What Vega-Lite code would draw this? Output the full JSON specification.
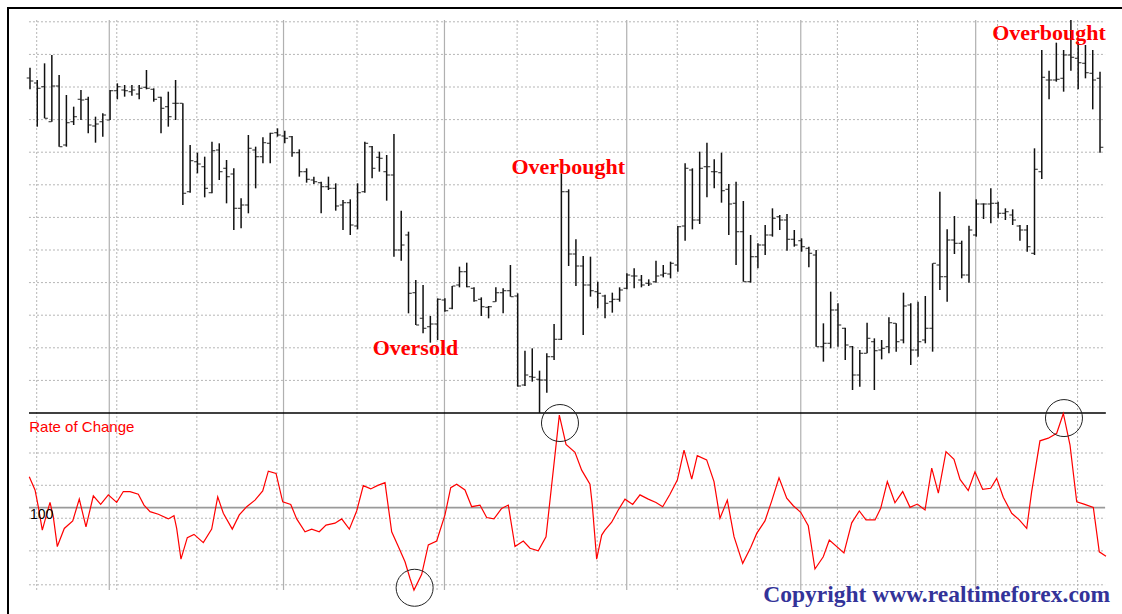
{
"$schema": "https://vega.github.io/schema/vega-lite/v6.json",
"width": 1120,
"height": 612,
"autosize": {"type": "none"},
"padding": {"left": 8, "top": 8, "right": 0, "bottom": 0},
"background": "white",
"config": {"view": {"stroke": "#000000", "strokeWidth": 2}},
"datasets": {
"bars": [
{"day":0,"o":1.4005,"h":1.4036,"l":1.3971,"c":1.3996},
{"day":1,"o":1.3990,"h":1.3999,"l":1.3859,"c":1.3974},
{"day":2,"o":1.3979,"h":1.4049,"l":1.3884,"c":1.3884},
{"day":3,"o":1.3874,"h":1.4074,"l":1.3874,"c":1.3981},
{"day":4,"o":1.3981,"h":1.4014,"l":1.3799,"c":1.3799},
{"day":5,"o":1.3804,"h":1.3954,"l":1.3799,"c":1.3871},
{"day":6,"o":1.3874,"h":1.3919,"l":1.3864,"c":1.3889},
{"day":7,"o":1.3941,"h":1.3969,"l":1.3879,"c":1.3939},
{"day":8,"o":1.3941,"h":1.3949,"l":1.3839,"c":1.3864},
{"day":9,"o":1.3861,"h":1.3889,"l":1.3811,"c":1.3867},
{"day":10,"o":1.3874,"h":1.3899,"l":1.3829,"c":1.3894},
{"day":11,"o":1.3879,"h":1.3969,"l":1.3879,"c":1.3967},
{"day":12,"o":1.3967,"h":1.3989,"l":1.3941,"c":1.3979},
{"day":13,"o":1.3969,"h":1.3984,"l":1.3949,"c":1.3967},
{"day":14,"o":1.3964,"h":1.3984,"l":1.3952,"c":1.3969},
{"day":15,"o":1.3957,"h":1.3984,"l":1.3941,"c":1.3974},
{"day":16,"o":1.3977,"h":1.4029,"l":1.3971,"c":1.3974},
{"day":17,"o":1.3971,"h":1.3974,"l":1.3934,"c":1.3941},
{"day":18,"o":1.3947,"h":1.3949,"l":1.3839,"c":1.3914},
{"day":19,"o":1.3919,"h":1.3964,"l":1.3859,"c":1.3889},
{"day":20,"o":1.3929,"h":1.3999,"l":1.3879,"c":1.3929},
{"day":21,"o":1.3929,"h":1.3929,"l":1.3624,"c":1.3659},
{"day":22,"o":1.3664,"h":1.3804,"l":1.3661,"c":1.3757},
{"day":23,"o":1.3754,"h":1.3781,"l":1.3719,"c":1.3747},
{"day":24,"o":1.3739,"h":1.3769,"l":1.3647,"c":1.3674},
{"day":25,"o":1.3661,"h":1.3814,"l":1.3659,"c":1.3787},
{"day":26,"o":1.3789,"h":1.3809,"l":1.3699,"c":1.3724},
{"day":27,"o":1.3734,"h":1.3759,"l":1.3629,"c":1.3709},
{"day":28,"o":1.3717,"h":1.3734,"l":1.3549,"c":1.3614},
{"day":29,"o":1.3614,"h":1.3644,"l":1.3554,"c":1.3624},
{"day":30,"o":1.3624,"h":1.3834,"l":1.3599,"c":1.3794},
{"day":31,"o":1.3789,"h":1.3799,"l":1.3674,"c":1.3769},
{"day":32,"o":1.3769,"h":1.3827,"l":1.3749,"c":1.3811},
{"day":33,"o":1.3809,"h":1.3841,"l":1.3749,"c":1.3839},
{"day":34,"o":1.3841,"h":1.3854,"l":1.3829,"c":1.3834},
{"day":35,"o":1.3831,"h":1.3847,"l":1.3809,"c":1.3824},
{"day":36,"o":1.3829,"h":1.3831,"l":1.3769,"c":1.3781},
{"day":37,"o":1.3781,"h":1.3791,"l":1.3709,"c":1.3724},
{"day":38,"o":1.3724,"h":1.3734,"l":1.3691,"c":1.3701},
{"day":39,"o":1.3699,"h":1.3709,"l":1.3687,"c":1.3694},
{"day":40,"o":1.3691,"h":1.3694,"l":1.3599,"c":1.3679},
{"day":41,"o":1.3679,"h":1.3709,"l":1.3669,"c":1.3674},
{"day":42,"o":1.3674,"h":1.3689,"l":1.3607,"c":1.3621},
{"day":43,"o":1.3624,"h":1.3639,"l":1.3549,"c":1.3631},
{"day":44,"o":1.3631,"h":1.3641,"l":1.3534,"c":1.3564},
{"day":45,"o":1.3561,"h":1.3689,"l":1.3551,"c":1.3661},
{"day":46,"o":1.3664,"h":1.3814,"l":1.3661,"c":1.3809},
{"day":47,"o":1.3799,"h":1.3801,"l":1.3704,"c":1.3734},
{"day":48,"o":1.3767,"h":1.3784,"l":1.3724,"c":1.3764},
{"day":49,"o":1.3724,"h":1.3774,"l":1.3637,"c":1.3714},
{"day":50,"o":1.3714,"h":1.3837,"l":1.3469,"c":1.3489},
{"day":51,"o":1.3489,"h":1.3607,"l":1.3457,"c":1.3504},
{"day":52,"o":1.3534,"h":1.3544,"l":1.3299,"c":1.3359},
{"day":53,"o":1.3361,"h":1.3399,"l":1.3264,"c":1.3264},
{"day":54,"o":1.3284,"h":1.3384,"l":1.3239,"c":1.3254},
{"day":55,"o":1.3259,"h":1.3291,"l":1.3211,"c":1.3267},
{"day":56,"o":1.3267,"h":1.3344,"l":1.3219,"c":1.3341},
{"day":57,"o":1.3339,"h":1.3344,"l":1.3304,"c":1.3307},
{"day":58,"o":1.3314,"h":1.3381,"l":1.3311,"c":1.3381},
{"day":59,"o":1.3384,"h":1.3439,"l":1.3377,"c":1.3424},
{"day":60,"o":1.3424,"h":1.3451,"l":1.3377,"c":1.3379},
{"day":61,"o":1.3374,"h":1.3377,"l":1.3334,"c":1.3337},
{"day":62,"o":1.3341,"h":1.3347,"l":1.3291,"c":1.3319},
{"day":63,"o":1.3317,"h":1.3321,"l":1.3284,"c":1.3319},
{"day":64,"o":1.3334,"h":1.3377,"l":1.3334,"c":1.3361},
{"day":65,"o":1.3361,"h":1.3374,"l":1.3299,"c":1.3367},
{"day":66,"o":1.3367,"h":1.3444,"l":1.3349,"c":1.3349},
{"day":67,"o":1.3351,"h":1.3359,"l":1.3079,"c":1.3081},
{"day":68,"o":1.3084,"h":1.3187,"l":1.3081,"c":1.3114},
{"day":69,"o":1.3109,"h":1.3194,"l":1.3094,"c":1.3107},
{"day":70,"o":1.3101,"h":1.3127,"l":1.3000,"c":1.3099},
{"day":71,"o":1.3099,"h":1.3179,"l":1.3061,"c":1.3169},
{"day":72,"o":1.3169,"h":1.3267,"l":1.3159,"c":1.3221},
{"day":73,"o":1.3221,"h":1.3719,"l":1.3219,"c":1.3664},
{"day":74,"o":1.3664,"h":1.3671,"l":1.3441,"c":1.3477},
{"day":75,"o":1.3477,"h":1.3521,"l":1.3381,"c":1.3441},
{"day":76,"o":1.3441,"h":1.3471,"l":1.3234,"c":1.3384},
{"day":77,"o":1.3384,"h":1.3469,"l":1.3349,"c":1.3367},
{"day":78,"o":1.3364,"h":1.3394,"l":1.3314,"c":1.3359},
{"day":79,"o":1.3351,"h":1.3355,"l":1.3284,"c":1.3329},
{"day":80,"o":1.3334,"h":1.3361,"l":1.3301,"c":1.3341},
{"day":81,"o":1.3341,"h":1.3377,"l":1.3334,"c":1.3369},
{"day":82,"o":1.3374,"h":1.3419,"l":1.3371,"c":1.3414},
{"day":83,"o":1.3411,"h":1.3434,"l":1.3374,"c":1.3411},
{"day":84,"o":1.3399,"h":1.3414,"l":1.3377,"c":1.3384},
{"day":85,"o":1.3389,"h":1.3401,"l":1.3381,"c":1.3387},
{"day":86,"o":1.3394,"h":1.3457,"l":1.3391,"c":1.3411},
{"day":87,"o":1.3414,"h":1.3444,"l":1.3407,"c":1.3419},
{"day":88,"o":1.3417,"h":1.3454,"l":1.3404,"c":1.3449},
{"day":89,"o":1.3444,"h":1.3561,"l":1.3424,"c":1.3559},
{"day":90,"o":1.3561,"h":1.3749,"l":1.3517,"c":1.3734},
{"day":91,"o":1.3729,"h":1.3734,"l":1.3551,"c":1.3579},
{"day":92,"o":1.3579,"h":1.3784,"l":1.3567,"c":1.3734},
{"day":93,"o":1.3739,"h":1.3811,"l":1.3647,"c":1.3739},
{"day":94,"o":1.3724,"h":1.3761,"l":1.3674,"c":1.3724},
{"day":95,"o":1.3721,"h":1.3781,"l":1.3631,"c":1.3667},
{"day":96,"o":1.3671,"h":1.3687,"l":1.3534,"c":1.3627},
{"day":97,"o":1.3629,"h":1.3694,"l":1.3444,"c":1.3544},
{"day":98,"o":1.3544,"h":1.3636,"l":1.3394,"c":1.3394},
{"day":99,"o":1.3394,"h":1.3534,"l":1.3391,"c":1.3469},
{"day":100,"o":1.3469,"h":1.3509,"l":1.3434,"c":1.3504},
{"day":101,"o":1.3504,"h":1.3564,"l":1.3474,"c":1.3534},
{"day":102,"o":1.3534,"h":1.3614,"l":1.3529,"c":1.3584},
{"day":103,"o":1.3589,"h":1.3594,"l":1.3549,"c":1.3579},
{"day":104,"o":1.3579,"h":1.3597,"l":1.3487,"c":1.3521},
{"day":105,"o":1.3521,"h":1.3549,"l":1.3499,"c":1.3504},
{"day":106,"o":1.3517,"h":1.3524,"l":1.3484,"c":1.3499},
{"day":107,"o":1.3494,"h":1.3499,"l":1.3437,"c":1.3479},
{"day":108,"o":1.3474,"h":1.3489,"l":1.3199,"c":1.3199},
{"day":109,"o":1.3199,"h":1.3269,"l":1.3154,"c":1.3209},
{"day":110,"o":1.3209,"h":1.3364,"l":1.3194,"c":1.3309},
{"day":111,"o":1.3309,"h":1.3329,"l":1.3199,"c":1.3264},
{"day":112,"o":1.3254,"h":1.3256,"l":1.3159,"c":1.3204},
{"day":113,"o":1.3199,"h":1.3201,"l":1.3069,"c":1.3114},
{"day":114,"o":1.3114,"h":1.3189,"l":1.3079,"c":1.3179},
{"day":115,"o":1.3179,"h":1.3271,"l":1.3179,"c":1.3224},
{"day":116,"o":1.3214,"h":1.3224,"l":1.3069,"c":1.3187},
{"day":117,"o":1.3189,"h":1.3219,"l":1.3161,"c":1.3194},
{"day":118,"o":1.3199,"h":1.3287,"l":1.3179,"c":1.3271},
{"day":119,"o":1.3269,"h":1.3269,"l":1.3184,"c":1.3214},
{"day":120,"o":1.3219,"h":1.3361,"l":1.3209,"c":1.3321},
{"day":121,"o":1.3324,"h":1.3329,"l":1.3144,"c":1.3189},
{"day":122,"o":1.3189,"h":1.3334,"l":1.3169,"c":1.3214},
{"day":123,"o":1.3219,"h":1.3351,"l":1.3209,"c":1.3254},
{"day":124,"o":1.3254,"h":1.3449,"l":1.3184,"c":1.3449},
{"day":125,"o":1.3444,"h":1.3664,"l":1.3369,"c":1.3409},
{"day":126,"o":1.3409,"h":1.3551,"l":1.3334,"c":1.3519},
{"day":127,"o":1.3519,"h":1.3591,"l":1.3477,"c":1.3509},
{"day":128,"o":1.3509,"h":1.3517,"l":1.3404,"c":1.3414},
{"day":129,"o":1.3414,"h":1.3562,"l":1.3391,"c":1.3549},
{"day":130,"o":1.3534,"h":1.3641,"l":1.3529,"c":1.3627},
{"day":131,"o":1.3627,"h":1.3629,"l":1.3582,"c":1.3627},
{"day":132,"o":1.3627,"h":1.3674,"l":1.3569,"c":1.3629},
{"day":133,"o":1.3629,"h":1.3634,"l":1.3584,"c":1.3599},
{"day":134,"o":1.3599,"h":1.3614,"l":1.3579,"c":1.3604},
{"day":135,"o":1.3594,"h":1.3611,"l":1.3564,"c":1.3579},
{"day":136,"o":1.3561,"h":1.3564,"l":1.3517,"c":1.3549},
{"day":137,"o":1.3549,"h":1.3564,"l":1.3484,"c":1.3499},
{"day":138,"o":1.3479,"h":1.3794,"l":1.3474,"c":1.3731},
{"day":139,"o":1.3724,"h":1.4089,"l":1.3702,"c":1.4007},
{"day":140,"o":1.3999,"h":1.4027,"l":1.3941,"c":1.3999},
{"day":141,"o":1.3999,"h":1.4111,"l":1.3994,"c":1.4001},
{"day":142,"o":1.4004,"h":1.4089,"l":1.3964,"c":1.4074},
{"day":143,"o":1.4074,"h":1.4179,"l":1.4027,"c":1.4067},
{"day":144,"o":1.4064,"h":1.4114,"l":1.3971,"c":1.4051},
{"day":145,"o":1.4049,"h":1.4104,"l":1.4004,"c":1.4021},
{"day":146,"o":1.4019,"h":1.4089,"l":1.3911,"c":1.3999},
{"day":147,"o":1.4004,"h":1.4024,"l":1.3781,"c":1.3797}
],
"roc": [
{"day":-0.10,"roc":100.94},{"day":0.69,"roc":100.54},{"day":1.14,"roc":100.03},{"day":1.69,"roc":99.32},
{"day":2.20,"roc":99.73},{"day":2.75,"roc":100.16},{"day":3.20,"roc":99.73},{"day":3.75,"roc":98.82},
{"day":4.71,"roc":99.37},{"day":5.87,"roc":99.60},{"day":6.77,"roc":100.26},{"day":7.69,"roc":99.42},
{"day":8.70,"roc":100.36},{"day":9.71,"roc":100.10},{"day":10.76,"roc":100.39},{"day":11.91,"roc":100.16},
{"day":12.82,"roc":100.49},{"day":13.74,"roc":100.49},{"day":14.88,"roc":100.41},{"day":15.66,"roc":100.08},
{"day":16.49,"roc":99.88},{"day":17.63,"roc":99.80},{"day":19.00,"roc":99.66},{"day":19.78,"roc":99.76},
{"day":20.15,"roc":99.37},{"day":20.74,"roc":98.44},{"day":21.61,"roc":99.09},{"day":22.53,"roc":99.19},
{"day":23.81,"roc":98.94},{"day":24.96,"roc":99.35},{"day":25.79,"roc":100.33},{"day":26.56,"roc":99.83},
{"day":27.79,"roc":99.35},{"day":28.75,"roc":99.78},{"day":29.77,"roc":100.03},{"day":30.91,"roc":100.23},
{"day":31.97,"roc":100.51},{"day":32.74,"roc":101.11},{"day":33.80,"roc":101.04},{"day":34.72,"roc":100.18},
{"day":35.82,"roc":100.10},{"day":36.64,"roc":99.66},{"day":37.78,"roc":99.27},{"day":38.70,"roc":99.35},
{"day":39.74,"roc":99.27},{"day":40.67,"roc":99.47},{"day":41.90,"roc":99.53},{"day":42.82,"roc":99.66},
{"day":43.87,"roc":99.35},{"day":44.88,"roc":99.90},{"day":45.79,"roc":100.67},{"day":46.81,"roc":100.57},
{"day":47.71,"roc":100.67},{"day":48.77,"roc":100.76},{"day":49.69,"roc":99.27},{"day":50.60,"roc":98.82},
{"day":51.52,"roc":98.36},{"day":52.20,"roc":97.86},{"day":52.75,"roc":97.50},{"day":53.81,"roc":97.98},
{"day":54.72,"roc":98.87},{"day":55.87,"roc":98.99},{"day":57.01,"roc":99.78},{"day":57.80,"roc":100.61},
{"day":58.62,"roc":100.71},{"day":59.76,"roc":100.54},{"day":60.68,"roc":100.03},{"day":61.82,"roc":100.08},
{"day":62.74,"roc":99.70},{"day":63.74,"roc":99.66},{"day":64.80,"roc":99.98},{"day":65.71,"roc":100.08},
{"day":66.63,"roc":98.82},{"day":67.77,"roc":98.99},{"day":68.69,"roc":98.77},{"day":69.83,"roc":98.69},
{"day":70.89,"roc":99.12},{"day":72.72,"roc":102.81},{"day":73.64,"roc":101.92},{"day":74.87,"roc":101.68},
{"day":75.79,"roc":101.14},{"day":76.93,"roc":100.71},{"day":77.25,"roc":100.08},{"day":77.85,"roc":98.44},
{"day":78.54,"roc":99.17},{"day":78.99,"roc":99.32},{"day":79.91,"roc":99.56},{"day":80.82,"roc":99.93},
{"day":81.74,"roc":100.26},{"day":82.80,"roc":100.10},{"day":83.80,"roc":100.39},{"day":84.94,"roc":100.26},
{"day":86.00,"roc":100.16},{"day":86.92,"roc":100.03},{"day":87.92,"roc":100.41},{"day":88.93,"roc":100.84},
{"day":89.85,"roc":101.75},{"day":90.91,"roc":100.87},{"day":91.67,"roc":101.58},{"day":92.96,"roc":101.45},
{"day":93.97,"roc":100.79},{"day":94.79,"roc":99.68},{"day":95.80,"roc":100.23},{"day":96.72,"roc":99.12},
{"day":97.91,"roc":98.31},{"day":99.01,"roc":98.79},{"day":99.84,"roc":99.22},{"day":100.97,"roc":99.60},
{"day":101.89,"roc":100.20},{"day":102.90,"roc":100.91},{"day":103.96,"roc":100.29},{"day":104.86,"roc":100.06},
{"day":105.88,"roc":99.86},{"day":106.92,"roc":99.45},{"day":107.84,"roc":98.14},{"day":108.98,"roc":98.51},
{"day":109.81,"roc":99.02},{"day":111.82,"roc":98.63},{"day":112.89,"roc":99.54},{"day":113.93,"roc":99.90},
{"day":114.85,"roc":99.63},{"day":116.09,"roc":99.63},{"day":116.87,"roc":99.98},{"day":117.78,"roc":100.79},
{"day":118.83,"roc":100.15},{"day":119.89,"roc":100.49},{"day":120.90,"roc":100.01},{"day":121.90,"roc":100.11},
{"day":122.96,"roc":99.93},{"day":123.88,"roc":101.20},{"day":124.79,"roc":100.44},{"day":125.84,"roc":101.70},
{"day":126.94,"roc":101.47},{"day":127.77,"roc":100.86},{"day":128.90,"roc":100.52},{"day":129.82,"roc":101.09},
{"day":130.88,"roc":100.56},{"day":131.98,"roc":100.59},{"day":132.80,"roc":100.89},{"day":133.71,"roc":100.32},
{"day":134.87,"roc":99.83},{"day":135.91,"roc":99.63},{"day":136.93,"roc":99.37},{"day":137.61,"roc":100.49},
{"day":138.75,"roc":102.03},{"day":139.90,"roc":102.11},{"day":141.05,"roc":102.26},{"day":141.96,"roc":102.86},
{"day":142.88,"roc":101.90},{"day":143.80,"roc":100.18},{"day":144.80,"roc":100.11},{"day":146.08,"roc":100.01},
{"day":146.90,"roc":98.66},{"day":147.82,"roc":98.53}
],
"priceGrid": [{"price":1.30978},{"price":1.31956},{"price":1.32934},{"price":1.33912},{"price":1.3489},{"price":1.35868},{"price":1.36846},{"price":1.37824},{"price":1.38802},{"price":1.3978},{"price":1.40758},{"price":1.41736}],
"rocGrid": [{"roc":101.66},{"roc":100.68},{"roc":99.68},{"roc":98.69},{"roc":97.66}],
"vGrid": [{"day":0.92},{"day":11.92},{"day":22.92},{"day":33.92},{"day":44.92},{"day":55.92},{"day":66.92},{"day":77.92},{"day":88.92},{"day":99.92},{"day":110.92},{"day":121.92},{"day":132.92},{"day":143.92}],
"monthLines": [{"day":10.89},{"day":34.83},{"day":56.94},{"day":81.98},{"day":105.89},{"day":129.92}],
"circles": [{"day":52.84,"roc":97.57},{"day":72.81,"roc":102.57},{"day":142.05,"roc":102.72}],
"notes": [{"day":73.95,"price":1.37185,"label":"Overbought"},{"day":52.96,"price":1.3174,"label":"Oversold"},{"day":139.99,"price":1.4119,"label":"Overbought"}]
},
"layer": [
{
"layer": [
{"data": {"name": "vGrid"}, "mark": {"type": "rule", "color": "#b5b5b5", "strokeWidth": 1, "strokeDash": [2, 2]},
 "encoding": {"x": {"field": "day", "type": "quantitative", "scale": {"domain": [-3.0224, 150.845], "nice": false, "zero": false}, "axis": null},
  "y": {"datum": 1.4179, "type": "quantitative", "scale": {"domain": [1.2379, 1.4215], "nice": false, "zero": false}, "axis": null},
  "y2": {"datum": 1.2469}}},
{"data": {"name": "monthLines"}, "mark": {"type": "rule", "color": "#b0b0b0", "strokeWidth": 1.2},
 "encoding": {"x": {"field": "day", "type": "quantitative", "scale": {"domain": [-3.0224, 150.845], "nice": false, "zero": false}, "axis": null},
  "y": {"datum": 1.4179, "type": "quantitative", "scale": {"domain": [1.2379, 1.4215], "nice": false, "zero": false}, "axis": null},
  "y2": {"datum": 1.2469}}},
{"data": {"name": "priceGrid"}, "mark": {"type": "rule", "color": "#b5b5b5", "strokeWidth": 1, "strokeDash": [2, 2]},
 "encoding": {"y": {"field": "price", "type": "quantitative", "scale": {"domain": [1.2379, 1.4215], "nice": false, "zero": false}, "axis": null},
  "x": {"datum": -0.14, "type": "quantitative", "scale": {"domain": [-3.0224, 150.845], "nice": false, "zero": false}, "axis": null},
  "x2": {"datum": 147.7}}},
{"data": {"values": [{"price": 1.3}]}, "mark": {"type": "rule", "color": "#000000", "strokeWidth": 1.5},
 "encoding": {"y": {"field": "price", "type": "quantitative", "scale": {"domain": [1.2379, 1.4215], "nice": false, "zero": false}, "axis": null},
  "x": {"datum": -0.14, "type": "quantitative", "scale": {"domain": [-3.0224, 150.845], "nice": false, "zero": false}, "axis": null},
  "x2": {"datum": 147.8}}},
{"data": {"name": "bars"}, "mark": {"type": "rule", "color": "#111111", "strokeWidth": 1.5},
 "encoding": {"x": {"field": "day", "type": "quantitative", "scale": {"domain": [-3.0224, 150.845], "nice": false, "zero": false}, "axis": null},
  "y": {"field": "l", "type": "quantitative", "scale": {"domain": [1.2379, 1.4215], "nice": false, "zero": false}, "axis": null},
  "y2": {"field": "h"}}},
{"data": {"name": "bars"}, "mark": {"type": "tick", "orient": "horizontal", "size": 3, "thickness": 1.3, "xOffset": -1.8, "color": "#111111"},
 "encoding": {"x": {"field": "day", "type": "quantitative", "scale": {"domain": [-3.0224, 150.845], "nice": false, "zero": false}, "axis": null},
  "y": {"field": "o", "type": "quantitative", "scale": {"domain": [1.2379, 1.4215], "nice": false, "zero": false}, "axis": null}}},
{"data": {"name": "bars"}, "mark": {"type": "tick", "orient": "horizontal", "size": 3, "thickness": 1.3, "xOffset": 1.8, "color": "#111111"},
 "encoding": {"x": {"field": "day", "type": "quantitative", "scale": {"domain": [-3.0224, 150.845], "nice": false, "zero": false}, "axis": null},
  "y": {"field": "c", "type": "quantitative", "scale": {"domain": [1.2379, 1.4215], "nice": false, "zero": false}, "axis": null}}},
{"data": {"name": "notes"}, "mark": {"type": "text", "font": "Liberation Serif", "fontWeight": "bold", "fontSize": 22, "color": "#ff0000", "align": "center", "baseline": "alphabetic"},
 "encoding": {"x": {"field": "day", "type": "quantitative", "scale": {"domain": [-3.0224, 150.845], "nice": false, "zero": false}, "axis": null},
  "y": {"field": "price", "type": "quantitative", "scale": {"domain": [1.2379, 1.4215], "nice": false, "zero": false}, "axis": null},
  "text": {"field": "label"}}}
]
},
{
"layer": [
{"data": {"name": "rocGrid"}, "mark": {"type": "rule", "color": "#b5b5b5", "strokeWidth": 1, "strokeDash": [2, 2]},
 "encoding": {"y": {"field": "roc", "type": "quantitative", "scale": {"domain": [96.5918, 115.1655], "nice": false, "zero": false}, "axis": null},
  "x": {"datum": -0.14, "type": "quantitative", "scale": {"domain": [-3.0224, 150.845], "nice": false, "zero": false}, "axis": null},
  "x2": {"datum": 147.7}}},
{"data": {"values": [{"roc": 100}]}, "mark": {"type": "rule", "color": "#9a9a9a", "strokeWidth": 1.8},
 "encoding": {"y": {"field": "roc", "type": "quantitative", "scale": {"domain": [96.5918, 115.1655], "nice": false, "zero": false}, "axis": null},
  "x": {"datum": -0.14, "type": "quantitative", "scale": {"domain": [-3.0224, 150.845], "nice": false, "zero": false}, "axis": null},
  "x2": {"datum": 147.7}}},
{"data": {"name": "roc"}, "mark": {"type": "line", "color": "#ff0000", "strokeWidth": 1.2},
 "encoding": {"x": {"field": "day", "type": "quantitative", "scale": {"domain": [-3.0224, 150.845], "nice": false, "zero": false}, "axis": null},
  "y": {"field": "roc", "type": "quantitative", "scale": {"domain": [96.5918, 115.1655], "nice": false, "zero": false}, "axis": null}}},
{"data": {"name": "circles"}, "mark": {"type": "point", "shape": "circle", "size": 1369, "filled": false, "stroke": "#222222", "strokeWidth": 1, "opacity": 1},
 "encoding": {"x": {"field": "day", "type": "quantitative", "scale": {"domain": [-3.0224, 150.845], "nice": false, "zero": false}, "axis": null},
  "y": {"field": "roc", "type": "quantitative", "scale": {"domain": [96.5918, 115.1655], "nice": false, "zero": false}, "axis": null}}},
{"data": {"values": [{"day": -0.1, "roc": 102.29, "label": "Rate of Change"}]}, "mark": {"type": "text", "font": "Liberation Sans", "fontSize": 15, "color": "#ff0000", "align": "left", "baseline": "alphabetic"},
 "encoding": {"x": {"field": "day", "type": "quantitative", "scale": {"domain": [-3.0224, 150.845], "nice": false, "zero": false}, "axis": null},
  "y": {"field": "roc", "type": "quantitative", "scale": {"domain": [96.5918, 115.1655], "nice": false, "zero": false}, "axis": null},
  "text": {"field": "label"}}},
{"data": {"values": [{"day": 0, "roc": 99.66, "label": "100"}]}, "mark": {"type": "text", "font": "Liberation Sans", "fontSize": 14, "color": "#000000", "align": "left", "baseline": "alphabetic"},
 "encoding": {"x": {"field": "day", "type": "quantitative", "scale": {"domain": [-3.0224, 150.845], "nice": false, "zero": false}, "axis": null},
  "y": {"field": "roc", "type": "quantitative", "scale": {"domain": [96.5918, 115.1655], "nice": false, "zero": false}, "axis": null},
  "text": {"field": "label"}}},
{"data": {"values": [{"day": 124.56, "roc": 97.14, "label": "Copyright www.realtimeforex.com"}]}, "mark": {"type": "text", "font": "Liberation Serif", "fontWeight": "bold", "fontSize": 23.5, "color": "#333399", "align": "center", "baseline": "alphabetic"},
 "encoding": {"x": {"field": "day", "type": "quantitative", "scale": {"domain": [-3.0224, 150.845], "nice": false, "zero": false}, "axis": null},
  "y": {"field": "roc", "type": "quantitative", "scale": {"domain": [96.5918, 115.1655], "nice": false, "zero": false}, "axis": null},
  "text": {"field": "label"}}}
]
}
],
"resolve": {"scale": {"y": "independent"}}
}
